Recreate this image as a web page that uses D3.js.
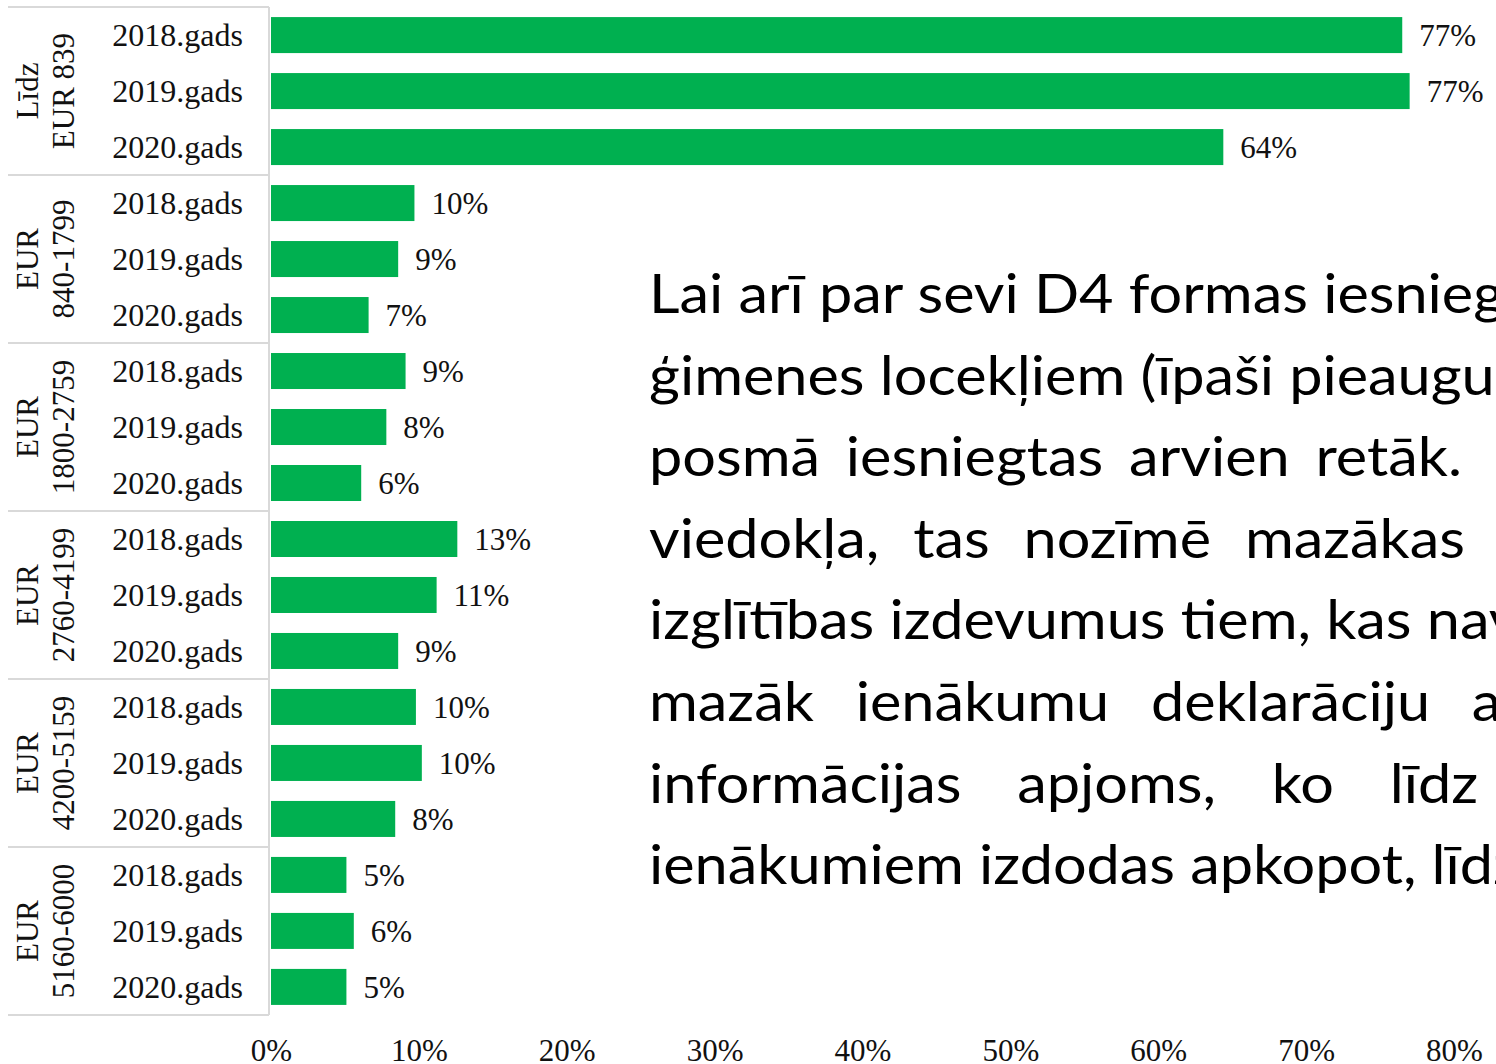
<!DOCTYPE html>
<html>
<head>
<meta charset="utf-8">
<script src="https://cdn.jsdelivr.net/npm/d3@7"></script>
<style>
  body { margin: 0; background: #fff; overflow: hidden; }
</style>
</head>
<body>
<div id="chart"></div>
<script>
// --------------------------------------
//  Data
// --------------------------------------

const groupLabels = [
  ["Līdz", "EUR 839"],
  ["EUR", "840-1799"],
  ["EUR", "1800-2759"],
  ["EUR", "2760-4199"],
  ["EUR", "4200-5159"],
  ["EUR", "5160-6000"]
];
const years = ["2018.gads", "2019.gads", "2020.gads"];
// share of declarations, % (3 years per group)
const shares = [
  76.5, 77.0, 64.4,
  9.7, 8.6, 6.6,
  9.1, 7.8, 6.1,
  12.6, 11.2, 8.6,
  9.8, 10.2, 8.4,
  5.1, 5.6, 5.1
];
const xTicks = [0, 10, 20, 30, 40, 50, 60, 70, 80];

// slide text lying over the chart (cut off at the right edge)
const paraLines = [
  "Lai arī par sevi D4 formas iesniegšana",
  "ģimenes locekļiem (īpaši pieaugušiem",
  "posmā iesniegtas arvien retāk.",
  "viedokļa, tas nozīmē mazākas",
  "izglītības izdevumus tiem, kas nav",
  "mazāk ienākumu deklarāciju ar",
  "informācijas apjoms, ko līdz",
  "ienākumiem izdodas apkopot, līdz"
];
// justified lines: first n words end at x (null = natural spacing)
const paraFit = [null, null, {n: 4, end: 1462}, {n: 4, end: 1465}, null, {n: 3, end: 1430}, {n: 4, end: 1478}, null];

// --------------------------------------
//  Margin and canvas
// --------------------------------------

const margin = {top: 7, right: 42, bottom: 49, left: 271};
const width = 1496;
const height = 1064;
const innerWidth = width - margin.left - margin.right;
const innerHeight = height - margin.top - margin.bottom;

const svg = d3.select("#chart")
  .append("svg")
    .attr("width", width)
    .attr("height", height)
    .attr("viewBox", `0, 0, ${width}, ${height}`);

const innerChart = svg
  .append("g")
    .attr("transform", `translate(${margin.left}, ${margin.top})`);

const serif = "'Liberation Serif', 'Times New Roman', serif";

// rows: one per group and year
const rows = groupLabels.flatMap((g, gi) =>
  years.map((y, yi) => ({key: gi + "-" + yi, group: gi, year: y, value: shares[gi * 3 + yi]}))
);

// --------------------------------------
//  Scales
// --------------------------------------

const x = d3.scaleLinear()
  .domain([0, 80])
  .range([0, innerWidth]);

const y = d3.scaleBand()
  .domain(rows.map(d => d.key))
  .range([0, innerHeight])
  .paddingInner(0.357)
  .paddingOuter(0.18);

const yGroup = d3.scaleBand()
  .domain(d3.range(groupLabels.length))
  .range([0, innerHeight]);

// --------------------------------------
//  Category table on the left
// --------------------------------------

const lineColor = "#d9d9d9";

innerChart.selectAll(".hline")
  .data(d3.range(groupLabels.length + 1))
  .join("line")
    .attr("class", "hline")
    .attr("x1", 8 - margin.left)
    .attr("x2", -2)
    .attr("y1", d => d < groupLabels.length ? yGroup(d) : innerHeight)
    .attr("y2", d => d < groupLabels.length ? yGroup(d) : innerHeight)
    .attr("stroke", lineColor)
    .attr("stroke-width", 2);

innerChart.append("line")
  .attr("x1", -2).attr("x2", -2)
  .attr("y1", 0).attr("y2", innerHeight)
  .attr("stroke", lineColor)
  .attr("stroke-width", 2);

// year labels
innerChart.selectAll(".year")
  .data(rows)
  .join("text")
    .attr("class", "year")
    .attr("x", -28)
    .attr("y", d => y(d.key) + y.bandwidth() / 2)
    .attr("dy", "0.35em")
    .attr("text-anchor", "end")
    .attr("font-family", serif)
    .attr("font-size", 32)
    .attr("fill", "#111")
    .text(d => d.year);

// group labels, rotated, two lines
const groupG = innerChart.selectAll(".grp")
  .data(groupLabels)
  .join("g")
    .attr("class", "grp")
    .attr("transform", (d, i) => `translate(0, ${yGroup(i) + yGroup.bandwidth() / 2})`);

groupG.selectAll("text")
  .data(d => d)
  .join("text")
    .attr("transform", (d, i) => `translate(${(i === 0 ? 38 : 74) - margin.left}, 0) rotate(-90)`)
    .attr("text-anchor", "middle")
    .attr("font-family", serif)
    .attr("font-size", 31)
    .attr("fill", "#111")
    .text(d => d);

// --------------------------------------
//  Bars and labels
// --------------------------------------

innerChart.selectAll(".bar")
  .data(rows)
  .join("rect")
    .attr("class", "bar")
    .attr("x", x(0))
    .attr("y", d => y(d.key))
    .attr("width", d => x(d.value) - x(0))
    .attr("height", y.bandwidth())
    .attr("fill", "#00b050");

innerChart.selectAll(".val")
  .data(rows)
  .join("text")
    .attr("class", "val")
    .attr("x", d => x(d.value) + 17)
    .attr("y", d => y(d.key) + y.bandwidth() / 2)
    .attr("dy", "0.36em")
    .attr("font-family", serif)
    .attr("font-size", 31)
    .attr("fill", "#111")
    .text(d => Math.round(d.value) + "%");

// --------------------------------------
//  Axis
// --------------------------------------

const xAxis = d3.axisBottom(x)
  .tickValues(xTicks)
  .tickFormat(d => d + "%")
  .tickSize(0)
  .tickPadding(24);

innerChart.append("g")
  .attr("transform", `translate(0, ${innerHeight})`)
  .call(xAxis)
  .call(g => g.select(".domain").remove())
  .call(g => g.selectAll("text")
    .attr("font-family", serif)
    .attr("font-size", 31)
    .attr("fill", "#111"));

// --------------------------------------
//  Overlay paragraph
// --------------------------------------

const paraX = 649;
const stretch = 1.1; // substitute font is narrower than the original

const para = svg.append("g")
  .attr("transform", `translate(${paraX}, 0) scale(${stretch}, 1)`)
  .attr("font-family", "Lato, 'Open Sans', sans-serif")
  .attr("font-size", 54)
  .attr("fill", "#000");

para.selectAll("text")
  .data(paraLines)
  .join("text")
    .attr("x", 0)
    .attr("y", (d, i) => 313 + i * 81.6)
    .attr("xml:space", "preserve")
    .text(d => d)
    .each(function(d, i) {
      const fit = paraFit[i];
      if (fit == null) return;
      const words = d.split(" ");
      const chars = words.slice(0, fit.n).join(" ").length;
      const natural = this.getSubStringLength(0, chars);
      const ws = ((fit.end - paraX) / stretch - natural) / (fit.n - 1);
      d3.select(this).attr("word-spacing", ws);
    });
</script>
</body>
</html>
